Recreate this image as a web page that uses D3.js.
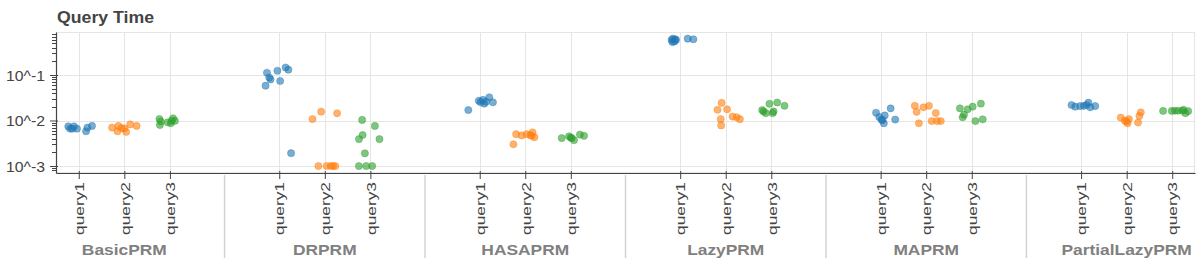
<!DOCTYPE html>
<html>
<head>
<meta charset="utf-8">
<script src="https://cdn.jsdelivr.net/npm/d3@7"></script>
<style>
  body { margin: 0; background: #fff; }
  text { font-family: "Liberation Sans", Arial, Helvetica, sans-serif; }
</style>
</head>
<body>
<div id="chart"></div>
<script>
// categories
var algorithms = ["BasicPRM", "DRPRM", "HASAPRM", "LazyPRM", "MAPRM", "PartialLazyPRM"];
var queries = ["query1", "query2", "query3"];
var colors = ["#1f77b4", "#ff7f0e", "#2ca02c"];

// y ticks (log axis)
var yTickValues = [0.001, 0.01, 0.1];
var yTickLabels = ["10^-3", "10^-2", "10^-1"];

// query times in seconds, one list per query, and the jitter (factor units)
var basicPRM = [
  [0.0074, 0.0066, 0.0074, 0.0066, 0.0066, 0.0058, 0.0070, 0.0076],
  [0.0070, 0.0058, 0.0076, 0.0068, 0.0067, 0.0056, 0.0082, 0.0076],
  [0.0108, 0.0080, 0.0095, 0.0091, 0.0087, 0.0112, 0.0098, 0.0099]
];
var basicPRMJitter = [
  [-0.23, -0.19, -0.105, -0.14, -0.04, 0.16, 0.19, 0.29],
  [-0.27, -0.15, -0.13, -0.06, 0.0, 0.04, 0.13, 0.27],
  [-0.23, -0.22, -0.20, -0.05, 0.02, 0.07, 0.11, 0.04]
];

var drPRM = [
  [0.112, 0.0582, 0.088, 0.080, 0.124, 0.0738, 0.146, 0.131, 0.00191],
  [0.0108, 0.0156, 0.0144, 0.001, 0.001, 0.001, 0.001, 0.001],
  [0.0103, 0.0076, 0.0048, 0.0039, 0.0039, 0.0019, 0.001, 0.001, 0.001]
];
var drPRMJitter = [
  [-0.27, -0.30, -0.22, -0.19, -0.04, 0.02, 0.14, 0.20, 0.26],
  [-0.27, -0.08, 0.27, -0.14, 0.04, 0.13, 0.18, 0.23],
  [-0.18, 0.10, -0.17, -0.25, 0.20, -0.12, -0.25, -0.09, 0.04]
];

var hasaPRM = [
  [0.0170, 0.0272, 0.0252, 0.0234, 0.0259, 0.0324, 0.0251, 0.0283],
  [0.0030, 0.0050, 0.0047, 0.0050, 0.0048, 0.0055, 0.0043, 0.0046],
  [0.0041, 0.0045, 0.0042, 0.0041, 0.0037, 0.0049, 0.0046]
];
var hasaPRMJitter = [
  [-0.25, -0.02, 0.02, 0.10, 0.14, 0.21, 0.29, 0.07],
  [-0.26, -0.20, -0.08, 0.03, 0.11, 0.16, 0.20, 0.14],
  [-0.20, -0.04, 0.0, 0.02, 0.07, 0.20, 0.29]
];

var lazyPRM = [
  [0.587, 0.63, 0.545, 0.59, 0.53, 0.61, 0.63, 0.61],
  [0.0245, 0.0172, 0.0176, 0.0107, 0.0078, 0.0122, 0.0118, 0.0107],
  [0.0170, 0.0145, 0.0233, 0.0145, 0.0249, 0.0211, 0.0158, 0.0158]
];
var lazyPRMJitter = [
  [-0.19, -0.16, -0.125, -0.09, -0.17, -0.11, 0.165, 0.29],
  [-0.09, -0.18, 0.03, -0.11, -0.10, 0.15, 0.24, 0.31],
  [-0.20, -0.12, -0.04, 0.03, 0.13, 0.29, 0.05, -0.17]
];

var maPRM = [
  [0.0148, 0.0119, 0.0104, 0.0087, 0.0129, 0.0185, 0.0105, 0.0103],
  [0.0211, 0.0155, 0.0087, 0.0195, 0.0211, 0.0097, 0.0146, 0.0097, 0.0097],
  [0.0185, 0.0118, 0.0134, 0.0176, 0.0201, 0.0234, 0.0097, 0.0106]
];
var maPRMJitter = [
  [-0.10, -0.03, 0.02, 0.07, 0.09, 0.22, 0.32, 0.04],
  [-0.25, -0.21, -0.16, -0.06, 0.06, 0.12, 0.21, 0.24, 0.32],
  [-0.26, -0.20, -0.17, -0.09, 0.02, 0.20, 0.08, 0.24]
];

var partialLazyPRM = [
  [0.0219, 0.0201, 0.0208, 0.0210, 0.0246, 0.0195, 0.0208, 0.0219],
  [0.0116, 0.0099, 0.0087, 0.0108, 0.0090, 0.0126, 0.0151, 0.0095],
  [0.0162, 0.0162, 0.0164, 0.0164, 0.0164, 0.0172, 0.0145, 0.0160]
];
var partialLazyPRMJitter = [
  [-0.21, -0.13, -0.02, 0.06, 0.16, 0.20, 0.31, 0.12],
  [-0.13, -0.04, 0.02, 0.05, 0.25, 0.28, 0.31, 0.0],
  [-0.20, -0.01, 0.06, 0.13, 0.22, 0.25, 0.29, 0.35]
];

var allTimes = [basicPRM, drPRM, hasaPRM, lazyPRM, maPRM, partialLazyPRM];
var allJitter = [basicPRMJitter, drPRMJitter, hasaPRMJitter, lazyPRMJitter, maPRMJitter, partialLazyPRMJitter];

// set svg dimensions
var svgWidth = 1200;
var svgHeight = 266;

var margin = {
  top: 32,
  right: 5,
  bottom: 93,
  left: 56
};

var width = svgWidth - margin.left - margin.right;
var height = svgHeight - margin.top - margin.bottom;

var svg = d3.select("#chart")
  .append("svg")
  .attr("width", svgWidth)
  .attr("height", svgHeight);

var chartGroup = svg.append("g")
  .attr("transform", `translate(${margin.left}, ${margin.top})`);

// nested factor range, like bokeh: group padding between algorithms
var groupPadding = 1.4;
var nUnits = algorithms.length * queries.length + (algorithms.length - 1) * groupPadding;
var xScale = d3.scaleLinear().domain([0, nUnits]).range([0, width]);

function factorPos(g, q) {
  return g * (queries.length + groupPadding) + q + 0.5;
}

var yScale = d3.scaleLog()
  .domain([0.000702, 0.881])
  .range([height, 0]);

// flatten into rows
var rows = [];
allTimes.forEach(function(algo, g) {
  algo.forEach(function(times, q) {
    times.forEach(function(t, i) {
      rows.push({ g: g, q: q, time: t, jitter: allJitter[g][q][i] });
    });
  });
});

var factorTicks = [];
var factorLabels = [];
algorithms.forEach(function(a, g) {
  queries.forEach(function(name, q) {
    factorTicks.push(factorPos(g, q));
    factorLabels.push(name);
  });
});

// minor ticks at 2..9 per decade
var minorTicks = [];
for (var d = -4; d <= 0; d++) {
  for (var k = 2; k <= 9; k++) {
    var v = k * Math.pow(10, d);
    if (v > yScale.domain()[0] && v < yScale.domain()[1]) minorTicks.push(v);
  }
}

var gridColor = "#e5e5e5";

// grid
chartGroup.append("g").selectAll("line")
  .data(factorTicks)
  .enter()
  .append("line")
  .attr("x1", d => Math.round(xScale(d)) + 0.5)
  .attr("x2", d => Math.round(xScale(d)) + 0.5)
  .attr("y1", 0)
  .attr("y2", height)
  .attr("stroke", gridColor);

chartGroup.append("g").selectAll("line")
  .data(yTickValues)
  .enter()
  .append("line")
  .attr("x1", 0)
  .attr("x2", width)
  .attr("y1", d => Math.round(yScale(d)) + 0.5)
  .attr("y2", d => Math.round(yScale(d)) + 0.5)
  .attr("stroke", gridColor);

// outline
chartGroup.append("rect")
  .attr("x", 0.5)
  .attr("y", 0.5)
  .attr("width", width - 1)
  .attr("height", height - 1)
  .attr("fill", "none")
  .attr("stroke", gridColor);

// points
chartGroup.append("g")
  .selectAll("circle")
  .data(rows)
  .enter()
  .append("circle")
  .attr("cx", d => xScale(factorPos(d.g, d.q) + d.jitter))
  .attr("cy", d => yScale(d.time))
  .attr("r", 3.6)
  .attr("fill", d => colors[d.q])
  .attr("fill-opacity", 0.6)
  .attr("stroke", d => colors[d.q])
  .attr("stroke-opacity", 0.6)
  .attr("stroke-width", 0.6);

var axisColor = "#444";

// y axis
var leftAxis = d3.axisLeft(yScale)
  .tickValues(yTickValues)
  .tickFormat((d, i) => yTickLabels[i])
  .tickSizeInner(6)
  .tickSizeOuter(0)
  .tickPadding(5);

var yAxis = chartGroup.append("g").call(leftAxis);
yAxis.select(".domain").attr("stroke", axisColor).attr("stroke-width", 1.2);
yAxis.selectAll(".tick line").attr("x1", 2).attr("stroke", axisColor);
yAxis.selectAll(".tick text")
  .attr("fill", "#444")
  .style("font-size", "15px")
  .attr("dy", "0.36em")
  .attr("textLength", 39)
  .attr("lengthAdjust", "spacingAndGlyphs");

yAxis.append("g").selectAll("line")
  .data(minorTicks)
  .enter()
  .append("line")
  .attr("x1", -4)
  .attr("x2", 0)
  .attr("y1", d => Math.round(yScale(d)) + 0.5)
  .attr("y2", d => Math.round(yScale(d)) + 0.5)
  .attr("stroke", axisColor);

// x axis
var bottomAxis = d3.axisBottom(xScale)
  .tickValues(factorTicks)
  .tickFormat((d, i) => factorLabels[i])
  .tickSizeInner(6)
  .tickSizeOuter(0);

var xAxis = chartGroup.append("g")
  .attr("transform", `translate(0, ${height})`)
  .call(bottomAxis);
xAxis.select(".domain").attr("stroke", axisColor).attr("stroke-width", 1.2);
xAxis.selectAll(".tick line").attr("y1", -2).attr("stroke", axisColor);
xAxis.selectAll(".tick text")
  .attr("transform", "rotate(-90)")
  .attr("x", -9)
  .attr("y", 0)
  .attr("dy", "0.35em")
  .style("text-anchor", "end")
  .style("font-size", "13.5px")
  .attr("fill", "#444")
  .attr("textLength", 53)
  .attr("lengthAdjust", "spacingAndGlyphs");

// group separators
var separators = d3.range(1, algorithms.length).map(g => g * (queries.length + groupPadding) - groupPadding / 2);
chartGroup.append("g").selectAll("line")
  .data(separators)
  .enter()
  .append("line")
  .attr("x1", d => xScale(d))
  .attr("x2", d => xScale(d))
  .attr("y1", height + 2)
  .attr("y2", height + 85)
  .attr("stroke", "#d3d3d3")
  .attr("stroke-width", 1.5);

// group labels
var groupLabels = chartGroup.append("g").selectAll("text")
  .data(algorithms)
  .enter()
  .append("text")
  .attr("x", (d, g) => xScale(factorPos(g, 1)))
  .attr("y", height + 81.5)
  .attr("text-anchor", "middle")
  .style("font-size", "15.5px")
  .style("font-weight", "bold")
  .attr("fill", "#808080")
  .text(d => d);

groupLabels.each(function() {
  var len = this.getComputedTextLength();
  d3.select(this)
    .attr("textLength", len * 1.12)
    .attr("lengthAdjust", "spacingAndGlyphs");
});

// title
svg.append("text")
  .attr("x", 57)
  .attr("y", 23)
  .style("font-size", "16px")
  .style("font-weight", "bold")
  .attr("fill", "#444")
  .attr("textLength", 97)
  .attr("lengthAdjust", "spacingAndGlyphs")
  .text("Query Time");
</script>
</body>
</html>
